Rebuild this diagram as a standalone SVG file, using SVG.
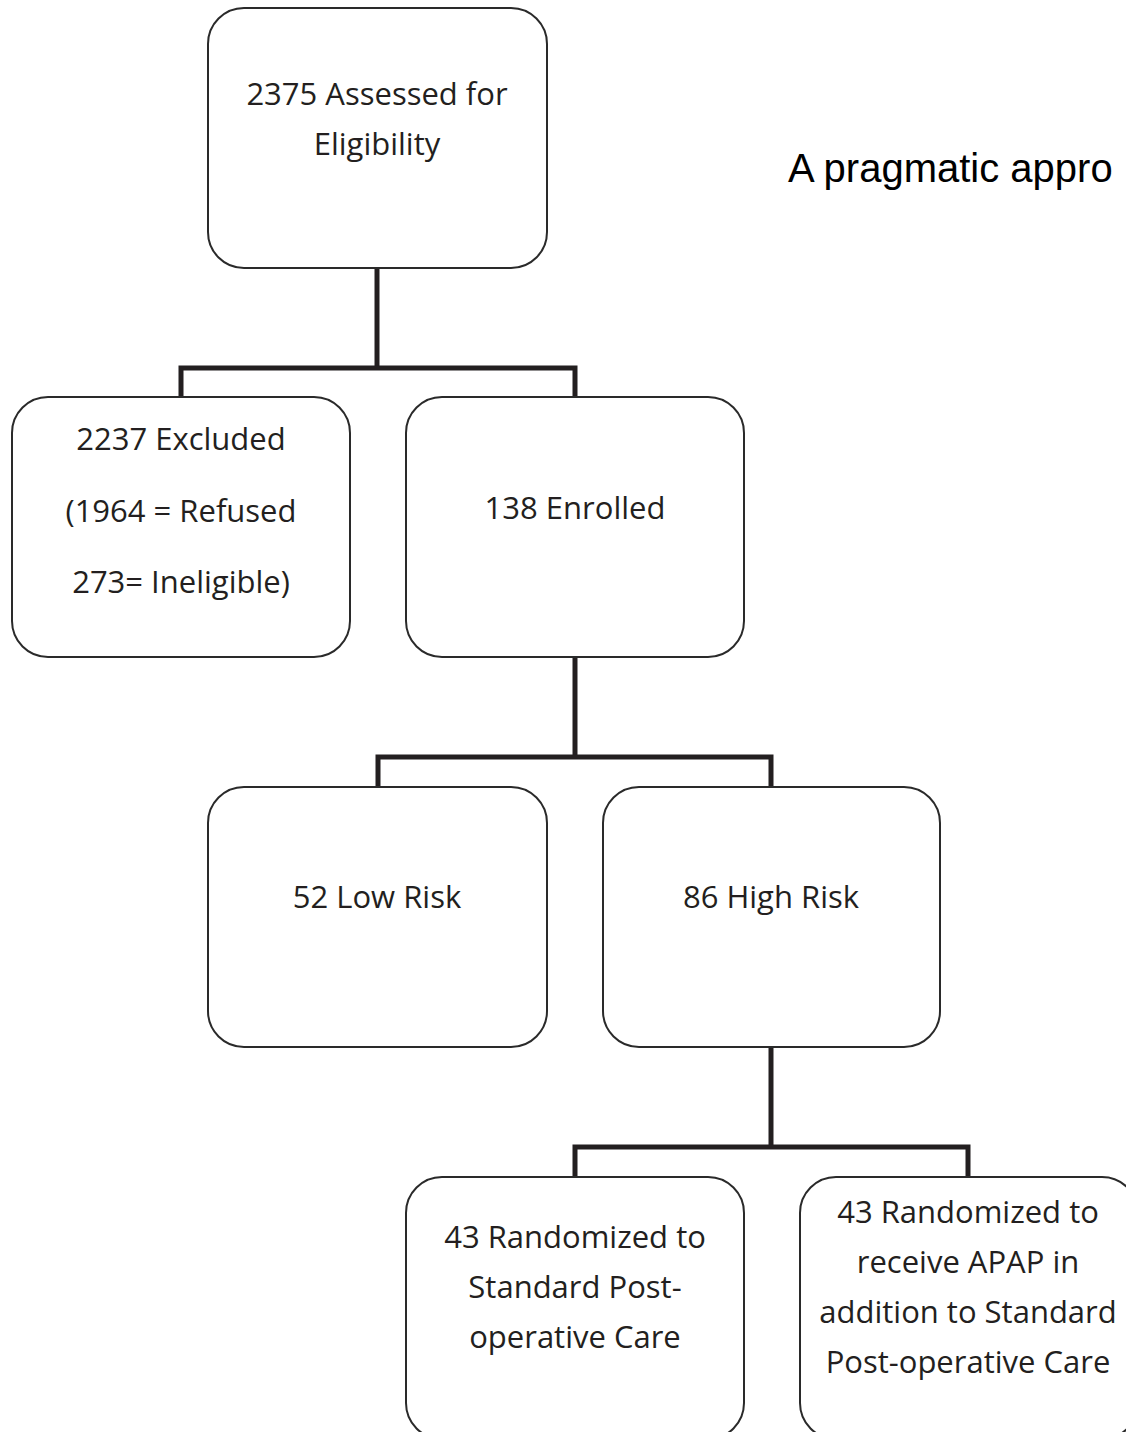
<svg xmlns="http://www.w3.org/2000/svg" width="1126" height="1432" viewBox="0 0 1126 1432">
  <style>
    .box { fill: #ffffff; stroke: #2a2a2a; stroke-width: 2; }
    .lbl { font-family: "Open Sans", "Liberation Sans", sans-serif; font-size: 31px; fill: #231f20; text-anchor: middle; }
    .link { fill: none; stroke: #231f20; stroke-width: 5; stroke-linejoin: miter; stroke-linecap: butt; }
    .note { font-family: "Liberation Sans", Arial, sans-serif; font-size: 40px; fill: #000000; }
  </style>
  <rect width="1126" height="1432" fill="#ffffff"/>

  <!-- connectors -->
  <g id="connectors">
    <path class="link" d="M377,268 V368"/>
    <path class="link" d="M181,398 V368 H575 V398"/>
    <path class="link" d="M575,657 V757"/>
    <path class="link" d="M378,787 V757 H771 V787"/>
    <path class="link" d="M771,1047 V1147"/>
    <path class="link" d="M575,1177 V1147 H968 V1177"/>
  </g>

  <g id="assessed">
    <rect class="box" x="208" y="8" width="339" height="260" rx="36" ry="36"/>
    <text class="lbl" x="377" y="105">2375 Assessed for</text>
    <text class="lbl" x="377" y="155">Eligibility</text>
  </g>

  <g id="excluded">
    <rect class="box" x="12" y="397" width="338" height="260" rx="36" ry="36"/>
    <text class="lbl" x="181" y="450">2237 Excluded</text>
    <text class="lbl" x="181" y="522">(1964 = Refused</text>
    <text class="lbl" x="181" y="593">273= Ineligible)</text>
  </g>

  <g id="enrolled">
    <rect class="box" x="406" y="397" width="338" height="260" rx="36" ry="36"/>
    <text class="lbl" x="575" y="519">138 Enrolled</text>
  </g>

  <g id="low-risk">
    <rect class="box" x="208" y="787" width="339" height="260" rx="36" ry="36"/>
    <text class="lbl" x="377" y="908">52 Low Risk</text>
  </g>

  <g id="high-risk">
    <rect class="box" x="603" y="787" width="337" height="260" rx="36" ry="36"/>
    <text class="lbl" x="771" y="908">86 High Risk</text>
  </g>

  <g id="standard-care">
    <rect class="box" x="406" y="1177" width="338" height="262" rx="36" ry="36"/>
    <text class="lbl" x="575" y="1248">43 Randomized to</text>
    <text class="lbl" x="575" y="1298">Standard Post-</text>
    <text class="lbl" x="575" y="1348">operative Care</text>
  </g>

  <g id="apap-care">
    <rect class="box" x="800" y="1177" width="338" height="262" rx="36" ry="36"/>
    <text class="lbl" x="968" y="1223">43 Randomized to</text>
    <text class="lbl" x="968" y="1273">receive APAP in</text>
    <text class="lbl" x="968" y="1323">addition to Standard</text>
    <text class="lbl" x="968" y="1373">Post-operative Care</text>
  </g>

  <text class="note" x="788" y="182">A pragmatic appro</text>
</svg>
